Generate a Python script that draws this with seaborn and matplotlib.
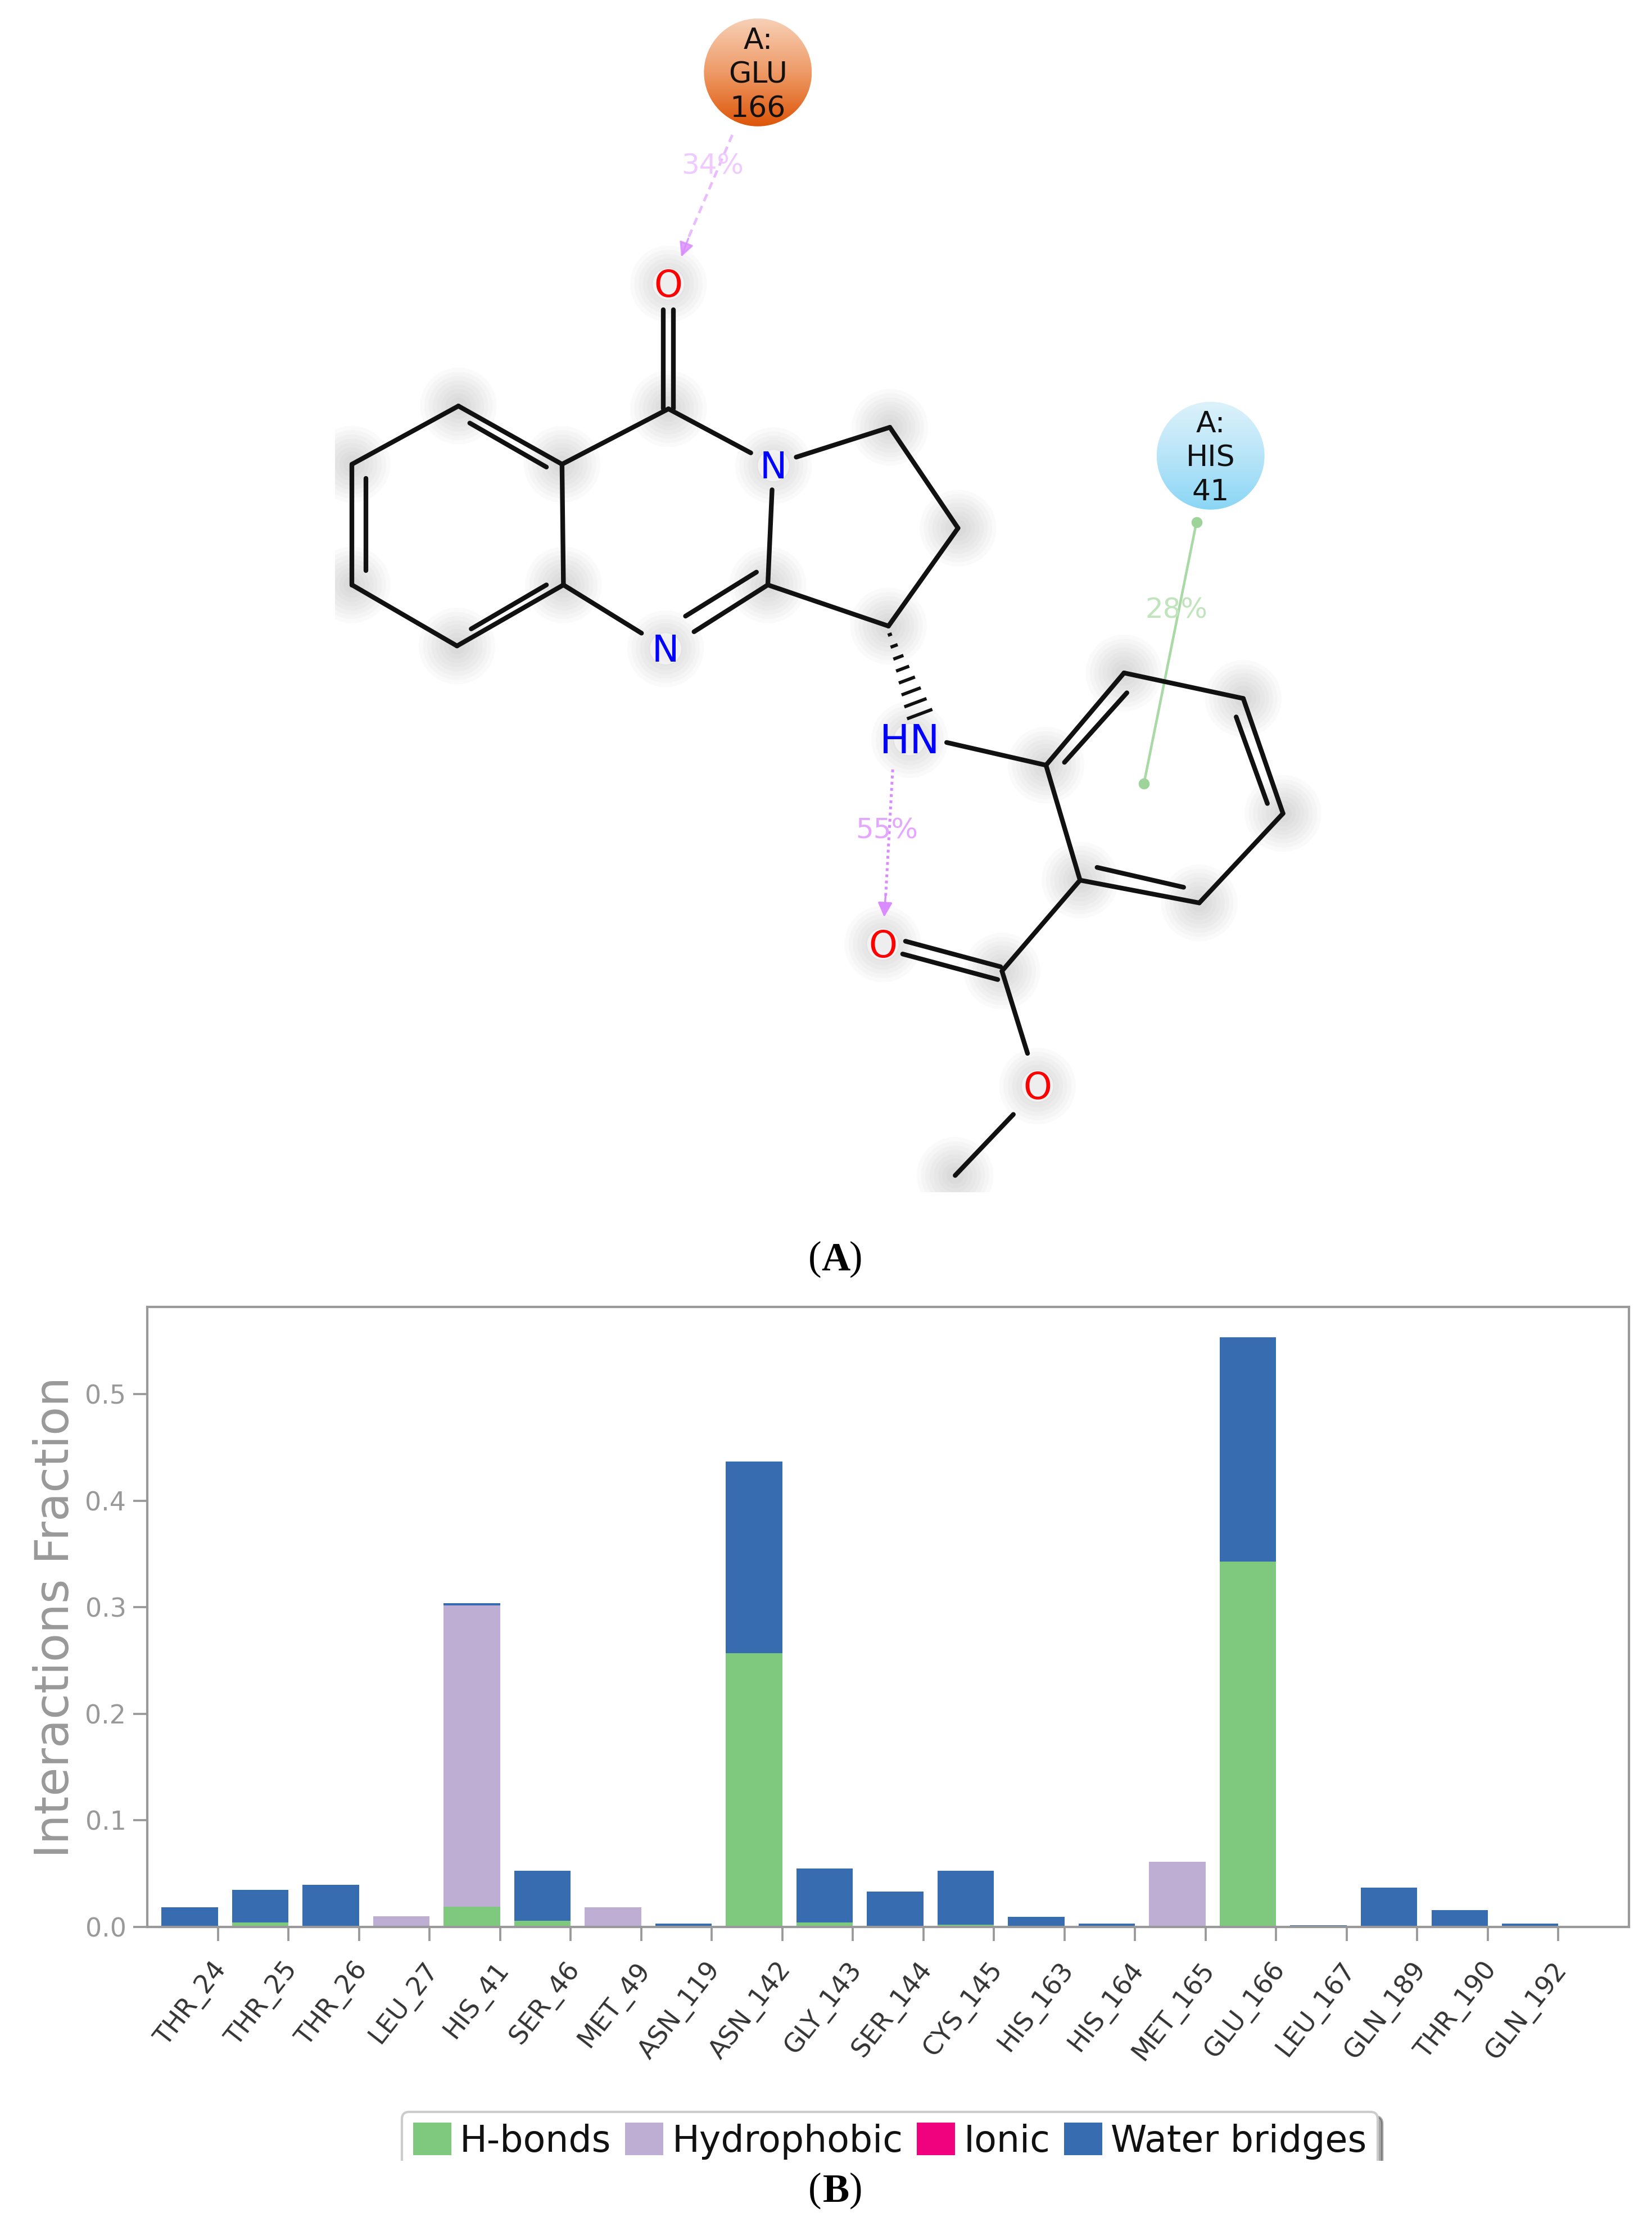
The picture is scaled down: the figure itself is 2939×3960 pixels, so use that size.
import numpy as np
import pandas as pd
import matplotlib
matplotlib.use("Agg")
import matplotlib.pyplot as plt
from matplotlib.patches import Circle, Rectangle, Patch
from matplotlib.colors import LinearSegmentedColormap
from matplotlib.transforms import ScaledTranslation
import seaborn as sns

# ---------- bar chart data ----------
residues = ["THR_24", "THR_25", "THR_26", "LEU_27", "HIS_41", "SER_46", "MET_49", "ASN_119",
            "ASN_142", "GLY_143", "SER_144", "CYS_145", "HIS_163", "HIS_164", "MET_165",
            "GLU_166", "LEU_167", "GLN_189", "THR_190", "GLN_192"]
hbonds = [0.0, 0.004, 0.0, 0.0, 0.0192, 0.0057, 0.0, 0.0, 0.2568, 0.004, 0.0, 0.002, 0.0, 0.0,
          0.0, 0.3428, 0.0, 0.001, 0.0, 0.0]
hydrophobic = [0.0, 0.0, 0.0, 0.0102, 0.2828, 0.0, 0.0187, 0.0, 0.0, 0.0, 0.0, 0.0, 0.0, 0.0,
               0.061, 0.0, 0.0, 0.0, 0.0, 0.0]
ionic = [0.0] * 20
water = [0.0187, 0.031, 0.0396, 0.0, 0.002, 0.0469, 0.0, 0.003, 0.1802, 0.051, 0.0334, 0.0506,
         0.0096, 0.0034, 0.0, 0.2109, 0.0017, 0.0358, 0.0158, 0.0034]
series_names = ["H-bonds", "Hydrophobic", "Ionic", "Water bridges"]
series_colors = ["#7fc97f", "#beaed4", "#f0027f", "#386cb0"]
y_ticks = [0.0, 0.1, 0.2, 0.3, 0.4, 0.5]

# ---------- molecule diagram (coordinates on the 1164x1568 page) ----------
bonds = [
    ((323, 286), (396, 327)), ((396, 327), (397, 412)), ((397, 412), (322, 455)),
    ((322, 455), (248, 412)), ((248, 412), (248, 327)), ((248, 327), (323, 286)),
    ((331, 298), (385, 329)), ((258, 337), (258, 402)), ((332, 443), (385, 412)),
    ((396, 327), (471, 288)), ((471, 288), (529, 319)), ((561, 322), (627, 301)),
    ((627, 301), (675, 372)), ((675, 372), (626, 441)), ((626, 441), (541, 412)),
    ((541, 412), (544, 345)), ((541, 412), (489, 445)), ((533, 403), (483, 434)),
    ((397, 412), (452, 446)),
    ((467.5, 218), (467.5, 288)), ((474.5, 218), (474.5, 288)),
    ((667, 523), (737, 539)), ((737, 539), (792, 474)), ((792, 474), (876, 492)),
    ((876, 492), (904, 573)), ((904, 573), (845, 636)), ((845, 636), (761, 620)),
    ((761, 620), (737, 539)), ((750, 537), (794, 488)), ((871, 505), (893, 566)),
    ((834, 625), (773, 611)),
    ((761, 620), (706, 684)), ((638, 663), (705, 681)), ((636, 672), (703, 690)),
    ((706, 684), (724, 742)), ((714, 785), (673, 828)),
]
halo_sites = [(323, 286), (248, 327), (248, 412), (322, 455), (396, 327), (397, 412), (471, 288),
              (471, 200), (545, 328), (627, 301), (675, 372), (626, 441), (541, 412), (469, 457),
              (641, 521), (737, 539), (792, 474), (876, 492), (904, 573), (845, 636), (761, 620),
              (706, 684), (622, 665), (731, 765), (673, 828)]
atom_labels = [("O", 471, 202, "#ff0000", 15.5), ("N", 545, 330, "#0000ff", 15.5),
               ("N", 469, 459, "#0000ff", 15.5), ("HN", 641, 523, "#0000ff", 17),
               ("O", 622, 667, "#ff0000", 15.5), ("O", 731, 767, "#ff0000", 15.5)]
residue_nodes = [(534, 51, ["A:", "GLU", "166"], ["#f7d0b6", "#ee9a66", "#dd5508"]),
                 (853, 321, ["A:", "HIS", "41"], ["#dcf2fb", "#b8e5f8", "#8ad6f5"])]
stereo_from, stereo_to = (627, 447), (648, 503)

sns.set_theme(style="white")
plt.rcParams["font.family"] = ["DejaVu Sans"]

W, H = 2939, 3960
fig = plt.figure(figsize=(W / 300, H / 300), dpi=300, facecolor="white")

# ---------- panel B ----------
ax = fig.add_axes([262 / W, 1 - 3428 / H, (2898 - 262) / W, (3428 - 2325) / H])
df = pd.DataFrame({"residue": residues, "H-bonds": hbonds, "Hydrophobic": hydrophobic,
                   "Ionic": ionic, "Water bridges": water})
base = np.zeros(len(df))
for name, col in zip(series_names, series_colors):
    sns.barplot(data=df, x="residue", y=name, color=col, saturation=1, width=0.8,
                bottom=base, ax=ax, errorbar=None, linewidth=0)
    base = base + df[name].to_numpy()

GREY = "#999999"
ax.set_xlim(-0.6, 20.4)
ax.set_ylim(0, 0.582)
ax.set_xticks(np.arange(len(residues)) + 0.4)
ax.set_xticklabels(residues, rotation=52, ha="right", fontsize=11, color="#333333")
ax.set_yticks(y_ticks)
ax.set_yticklabels([f"{v:.1f}" for v in y_ticks], fontsize=11, color=GREY)
ax.tick_params(axis="both", which="major", length=6, width=0.9, color=GREY,
               left=True, bottom=True)
ax.tick_params(axis="x", pad=7)
ax.tick_params(axis="y", pad=3)
shift = ScaledTranslation(25 / 300, 0, fig.dpi_scale_trans)
for lab in ax.get_xticklabels():
    lab.set_transform(lab.get_transform() + shift)
ax.set_xlabel("")
ax.set_ylabel("Interactions Fraction", fontsize=20, color=GREY)
ax.yaxis.set_label_coords((139 - 262) / (2898 - 262), 0.5)
for s in ax.spines.values():
    s.set_visible(True)
    s.set_color(GREY)
    s.set_linewidth(1.0)

handles = [Patch(facecolor=c, edgecolor="none", label=n) for n, c in zip(series_names, series_colors)]
fig.legend(handles=handles, ncol=4, fontsize=15.6, loc="upper center", frameon=True, fancybox=True,
           shadow=True, bbox_to_anchor=(627 / 1164, 1 - 1487.5 / 1568), handlelength=1.05,
           handleheight=1.0, handletextpad=0.23, columnspacing=0.38, borderpad=0.3,
           borderaxespad=0, labelcolor="#111111", edgecolor="#cccccc", framealpha=1)

# ---------- overlay in page coordinates ----------
ov = fig.add_axes([0, 0, 1, 1], zorder=10)
ov.set_xlim(0, 1164)
ov.set_ylim(1568, 0)
ov.axis("off")
ov.patch.set_alpha(0)

# crop box of panel A limits the halos
crop = Rectangle((236, 0), 928, 840, transform=ov.transData, fill=False, lw=0)
ov.add_patch(crop)
for (hx, hy) in halo_sites:
    for r in np.arange(27, 3, -3):
        c = Circle((hx, hy), r, color="#707070", alpha=0.03, lw=0, zorder=1)
        ov.add_patch(c)
        c.set_clip_path(crop)

for (a, b) in bonds:
    ov.plot([a[0], b[0]], [a[1], b[1]], color="#111111", lw=2.0, solid_capstyle="round", zorder=3)

# hashed stereo bond
sf, st = np.array(stereo_from, float), np.array(stereo_to, float)
d = (st - sf) / np.linalg.norm(st - sf)
n = np.array([-d[1], d[0]])
for t in np.linspace(0, 1, 8):
    p = sf + (st - sf) * t
    hw = 1.5 + 8 * t
    ov.plot([p[0] - n[0] * hw, p[0] + n[0] * hw], [p[1] - n[1] * hw, p[1] + n[1] * hw],
            color="#111111", lw=1.4, zorder=3, solid_capstyle="butt")

for txt, x, y, col, size in atom_labels:
    ov.add_patch(Circle((x, y - 2), 11, color="white", alpha=0.55, lw=0, zorder=2))
    ov.text(x, y, txt, color=col, fontsize=size, ha="center", va="center", zorder=4)

# residue nodes with vertical gradient
for x, y, lines, cols in residue_nodes:
    cmap = LinearSegmentedColormap.from_list("g", cols)
    im = ov.imshow(np.linspace(0, 1, 256).reshape(-1, 1), cmap=cmap, aspect="auto",
                   extent=(x - 38, x + 38, y + 38, y - 38), zorder=3)
    clip = Circle((x, y), 38, transform=ov.transData, fill=False, lw=0)
    ov.add_patch(clip)
    im.set_clip_path(clip)
    for k, line in enumerate(lines):
        ov.text(x, y + 2 + (k - 1) * 24, line, fontsize=12.5, color="#111111", ha="center",
                va="center", zorder=4)
ov.set_xlim(0, 1164)
ov.set_ylim(1568, 0)

# interactions
PINK1, PINK2, GREEN = "#e9bcff", "#d98bff", "#a9d9a5"
ov.plot([516, 484], [95, 170], color=PINK1, lw=1.1, ls=(0, (3, 2)), zorder=2)
ov.annotate("", xy=(480, 181), xytext=(485, 168),
            arrowprops=dict(arrowstyle="-|>", color=PINK2, lw=0.8, mutation_scale=13,
                            shrinkA=0, shrinkB=0, alpha=0.8), zorder=2)
ov.text(502, 117, "34%", color="#efc9ff", fontsize=12, ha="center", va="center", zorder=4)
ov.plot([629, 624], [542, 632], color=PINK2, lw=1.2, ls=(0, (1, 1.2)), zorder=2)
ov.annotate("", xy=(623, 646), xytext=(624, 630),
            arrowprops=dict(arrowstyle="-|>", color=PINK2, lw=0.8, mutation_scale=13,
                            shrinkA=0, shrinkB=0), zorder=2)
ov.text(625, 585, "55%", color="#e5a6ff", fontsize=12, ha="center", va="center", zorder=4)
ov.plot([843, 806], [368, 552], color=GREEN, lw=1.1, zorder=2)
ov.scatter([843, 806], [368, 552], s=22, color="#9ed39a", lw=0, zorder=2)
ov.text(829, 430, "28%", color="#c0e4bc", fontsize=12, ha="center", va="center", zorder=4)

# crop of the legend at the bottom, then captions
ov.add_patch(Rectangle((200, 1522), 900, 46, color="white", lw=0, zorder=5))
for letter, y in (("A", 888), ("B", 1544)):
    ov.text(589, y, letter, family="Liberation Serif", fontweight="bold", fontsize=17,
            ha="center", va="center", color="black", zorder=6)
    ov.text(574, y - 1, "(", family="Liberation Serif", fontsize=17, ha="center",
            va="center", color="black", zorder=6)
    ov.text(603, y - 1, ")", family="Liberation Serif", fontsize=17, ha="center",
            va="center", color="black", zorder=6)

fig.savefig("out.png", dpi=300, facecolor="white")
